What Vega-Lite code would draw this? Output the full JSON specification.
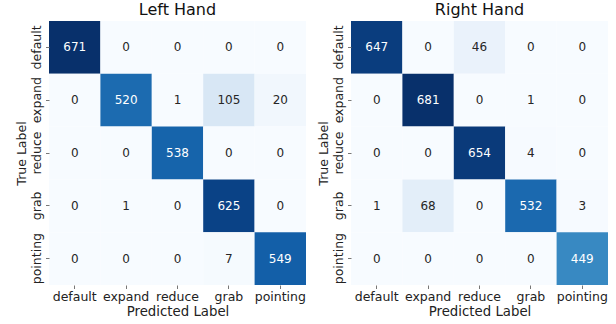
{
  "$schema": "https://vega.github.io/schema/vega-lite/v6.json",
  "padding": {"left": 15, "top": 2, "right": 5, "bottom": 2},
  "background": "white",
  "config": {
    "view": {"stroke": null},
    "font": "DejaVu Sans",
    "axis": {"domain": false, "grid": false, "tickColor": "#777", "tickSize": 3.5, "labelFont": "DejaVu Sans", "titleFont": "DejaVu Sans", "labelFontSize": 12.5, "titleFontSize": 12.5, "labelColor": "#222", "titleColor": "#222", "titleFontWeight": "normal", "labelPadding": 2, "titlePadding": 2},
    "axisX": {"titleFontSize": 13.3, "titlePadding": 1},
    "title": {"font": "DejaVu Sans", "fontSize": 16, "fontWeight": "normal", "color": "#111", "offset": 3}
  },
  "datasets": {
    "left": [
      {"t": "default", "p": "default", "v": 671}, {"t": "default", "p": "expand", "v": 0}, {"t": "default", "p": "reduce", "v": 0}, {"t": "default", "p": "grab", "v": 0}, {"t": "default", "p": "pointing", "v": 0},
      {"t": "expand", "p": "default", "v": 0}, {"t": "expand", "p": "expand", "v": 520}, {"t": "expand", "p": "reduce", "v": 1}, {"t": "expand", "p": "grab", "v": 105}, {"t": "expand", "p": "pointing", "v": 20},
      {"t": "reduce", "p": "default", "v": 0}, {"t": "reduce", "p": "expand", "v": 0}, {"t": "reduce", "p": "reduce", "v": 538}, {"t": "reduce", "p": "grab", "v": 0}, {"t": "reduce", "p": "pointing", "v": 0},
      {"t": "grab", "p": "default", "v": 0}, {"t": "grab", "p": "expand", "v": 1}, {"t": "grab", "p": "reduce", "v": 0}, {"t": "grab", "p": "grab", "v": 625}, {"t": "grab", "p": "pointing", "v": 0},
      {"t": "pointing", "p": "default", "v": 0}, {"t": "pointing", "p": "expand", "v": 0}, {"t": "pointing", "p": "reduce", "v": 0}, {"t": "pointing", "p": "grab", "v": 7}, {"t": "pointing", "p": "pointing", "v": 549}
    ],
    "right": [
      {"t": "default", "p": "default", "v": 647}, {"t": "default", "p": "expand", "v": 0}, {"t": "default", "p": "reduce", "v": 46}, {"t": "default", "p": "grab", "v": 0}, {"t": "default", "p": "pointing", "v": 0},
      {"t": "expand", "p": "default", "v": 0}, {"t": "expand", "p": "expand", "v": 681}, {"t": "expand", "p": "reduce", "v": 0}, {"t": "expand", "p": "grab", "v": 1}, {"t": "expand", "p": "pointing", "v": 0},
      {"t": "reduce", "p": "default", "v": 0}, {"t": "reduce", "p": "expand", "v": 0}, {"t": "reduce", "p": "reduce", "v": 654}, {"t": "reduce", "p": "grab", "v": 4}, {"t": "reduce", "p": "pointing", "v": 0},
      {"t": "grab", "p": "default", "v": 1}, {"t": "grab", "p": "expand", "v": 68}, {"t": "grab", "p": "reduce", "v": 0}, {"t": "grab", "p": "grab", "v": 532}, {"t": "grab", "p": "pointing", "v": 3},
      {"t": "pointing", "p": "default", "v": 0}, {"t": "pointing", "p": "expand", "v": 0}, {"t": "pointing", "p": "reduce", "v": 0}, {"t": "pointing", "p": "grab", "v": 0}, {"t": "pointing", "p": "pointing", "v": 449}
    ]
  },
  "hconcat": [
    {
      "title": "Left Hand",
      "width": 257, "height": 264,
      "data": {"name": "left"},
      "encoding": {
        "x": {"field": "p", "type": "nominal", "sort": ["default", "expand", "reduce", "grab", "pointing"], "title": "Predicted Label", "axis": {"labelAngle": 0}, "scale": {"paddingInner": 0, "paddingOuter": 0}},
        "y": {"field": "t", "type": "nominal", "sort": ["default", "expand", "reduce", "grab", "pointing"], "title": "True Label", "axis": {"labelAngle": -90, "labelAlign": "center", "labelBaseline": "bottom"}, "scale": {"paddingInner": 0, "paddingOuter": 0}}
      },
      "layer": [
        {"mark": {"type": "rect"}, "encoding": {"color": {"field": "v", "type": "quantitative", "legend": null, "scale": {"domain": [0, 83.875, 167.75, 251.625, 335.5, 419.375, 503.25, 587.125, 671], "range": ["#f7fbff", "#deebf7", "#c6dbef", "#9ecae1", "#6baed6", "#4292c6", "#2171b5", "#08519c", "#08306b"]}}}},
        {"mark": {"type": "text", "fontSize": 12, "font": "DejaVu Sans"}, "encoding": {"text": {"field": "v", "type": "quantitative"}, "color": {"condition": {"test": "datum.v > 300", "value": "#ffffff"}, "value": "#262626"}}}
      ]
    },
    {
      "title": "Right Hand",
      "width": 257, "height": 264,
      "data": {"name": "right"},
      "encoding": {
        "x": {"field": "p", "type": "nominal", "sort": ["default", "expand", "reduce", "grab", "pointing"], "title": "Predicted Label", "axis": {"labelAngle": 0}, "scale": {"paddingInner": 0, "paddingOuter": 0}},
        "y": {"field": "t", "type": "nominal", "sort": ["default", "expand", "reduce", "grab", "pointing"], "title": "True Label", "axis": {"labelAngle": -90, "labelAlign": "center", "labelBaseline": "bottom"}, "scale": {"paddingInner": 0, "paddingOuter": 0}}
      },
      "layer": [
        {"mark": {"type": "rect"}, "encoding": {"color": {"field": "v", "type": "quantitative", "legend": null, "scale": {"domain": [0, 85.125, 170.25, 255.375, 340.5, 425.625, 510.75, 595.875, 681], "range": ["#f7fbff", "#deebf7", "#c6dbef", "#9ecae1", "#6baed6", "#4292c6", "#2171b5", "#08519c", "#08306b"]}}}},
        {"mark": {"type": "text", "fontSize": 12, "font": "DejaVu Sans"}, "encoding": {"text": {"field": "v", "type": "quantitative"}, "color": {"condition": {"test": "datum.v > 300", "value": "#ffffff"}, "value": "#262626"}}}
      ]
    }
  ],
  "spacing": 11,
  "resolve": {"scale": {"color": "independent"}}
}
